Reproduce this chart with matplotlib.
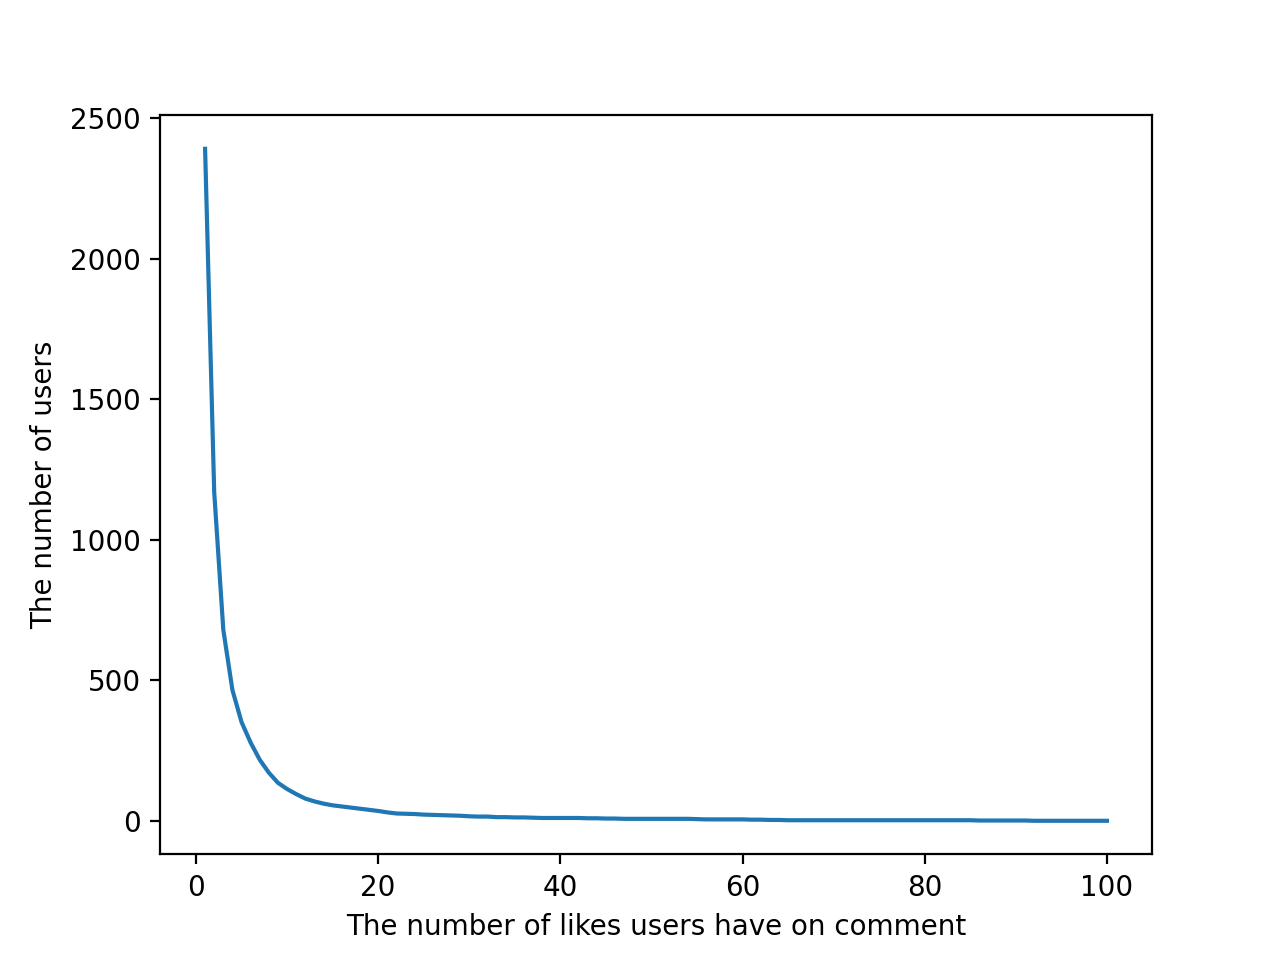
import matplotlib
matplotlib.use("Agg")
import matplotlib.pyplot as plt

likes = list(range(1, 101))
users = [2390, 1170, 680, 466, 352, 279, 218, 172, 136, 114,
         96, 80, 70, 62, 56, 52, 48, 44, 40, 36,
         31, 27, 26, 25, 23, 22, 21, 20, 19, 17,
         16, 16, 14, 14, 13, 13, 12, 11, 11, 11,
         11, 11, 10, 10, 9, 9, 8, 8, 8, 8,
         8, 8, 8, 8, 7, 6, 6, 6, 6, 6,
         5, 5, 4, 4, 3, 3, 3, 3, 3, 3,
         3, 3, 3, 3, 3, 3, 3, 3, 3, 3,
         3, 3, 3, 3, 3, 2, 2, 2, 2, 2,
         2, 1, 1, 1, 1, 1, 1, 1, 1, 1]

fig, ax = plt.subplots(figsize=(6.4, 4.8), dpi=200)
ax.plot(likes, users)
ax.set_xlabel("The number of likes users have on comment")
ax.set_ylabel("The number of users")
fig.savefig("out.png")
